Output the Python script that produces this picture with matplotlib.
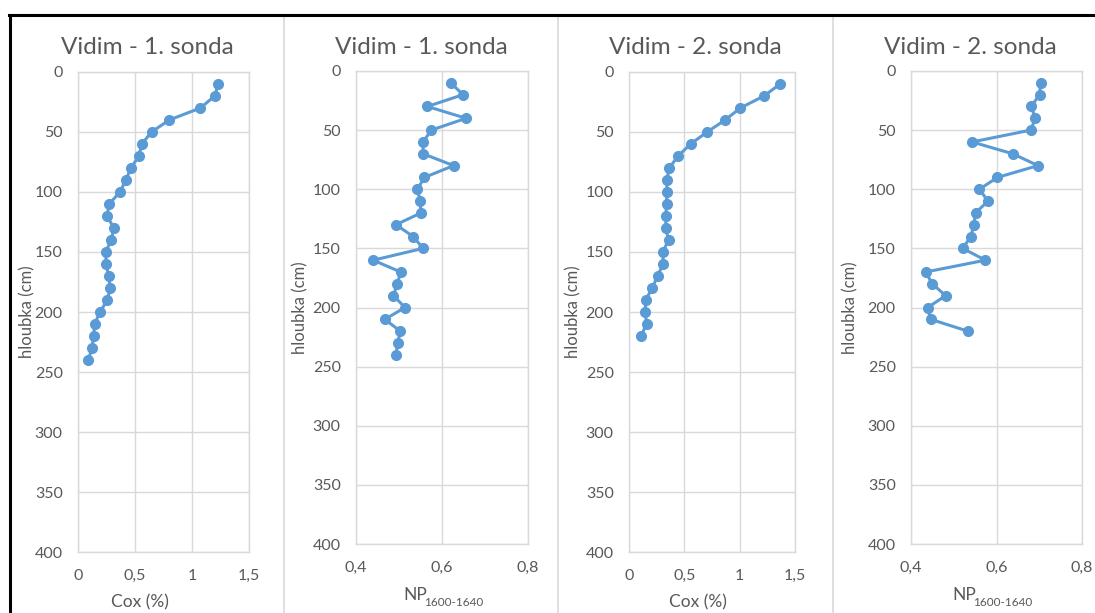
import matplotlib
matplotlib.use("Agg")
import matplotlib.pyplot as plt
from matplotlib.lines import Line2D

plt.rcParams['font.family'] = ['Lato', 'DejaVu Sans']

# hloubky (cm)
hloubka_1 = [10, 20, 30, 40, 50, 60, 70, 80, 90, 100, 110, 120, 130, 140, 150, 160,
             170, 180, 190, 200, 210, 220, 230, 240]
hloubka_2 = [10, 20, 30, 40, 50, 60, 70, 80, 90, 100, 110, 120, 130, 140, 150, 160,
             170, 180, 190, 200, 210, 220]

# 1. sonda
cox_1 = [1.231, 1.199, 1.074, 0.80, 0.645, 0.56, 0.534, 0.464, 0.42, 0.368, 0.274, 0.254,
         0.315, 0.292, 0.242, 0.248, 0.268, 0.283, 0.257, 0.193, 0.146, 0.137, 0.123, 0.09]
np_1 = [0.620, 0.649, 0.566, 0.656, 0.575, 0.556, 0.556, 0.627, 0.559, 0.543, 0.549, 0.551,
        0.493, 0.533, 0.556, 0.440, 0.504, 0.496, 0.487, 0.514, 0.467, 0.503, 0.497, 0.493]

# 2. sonda
cox_2 = [1.366, 1.219, 1.006, 0.868, 0.706, 0.556, 0.444, 0.363, 0.342, 0.342, 0.339, 0.333,
         0.333, 0.357, 0.306, 0.309, 0.258, 0.21, 0.15, 0.147, 0.159, 0.108]
np_2 = [0.703, 0.701, 0.681, 0.691, 0.680, 0.543, 0.638, 0.697, 0.602, 0.560, 0.580, 0.551,
        0.547, 0.540, 0.521, 0.574, 0.434, 0.450, 0.481, 0.439, 0.446, 0.533]

cox_ticks = [0, 0.5, 1, 1.5]
cox_labels = ["0", "0,5", "1", "1,5"]
np_ticks = [0.4, 0.6, 0.8]
np_labels = ["0,4", "0,6", "0,8"]
y_ticks = [0, 50, 100, 150, 200, 250, 300, 350, 400]

W, H = 1095, 613
fig = plt.figure(figsize=(W / 100, H / 100), dpi=100)

modra = "#5b9bd5"
seda_text = "#595959"
seda_mrizka = "#d9d9d9"


def osa(x0, y0, x1, y1):
    return fig.add_axes([x0 / W, 1 - y1 / H, (x1 - x0) / W, (y1 - y0) / H])


panely = [
    # (plot area px, x data, y data, xlim, ticks, labels, title, title x, ylabel x)
    ((78, 72, 249, 552), cox_1, hloubka_1, (0, 1.5), cox_ticks, cox_labels, "Vidim - 1. sonda", 147, 27),
    ((356, 71, 528, 544), np_1, hloubka_1, (0.4, 0.8), np_ticks, np_labels, "Vidim - 1. sonda", 421, 300),
    ((629, 72, 795, 552), cox_2, hloubka_2, (0, 1.5), cox_ticks, cox_labels, "Vidim - 2. sonda", 695, 573),
    ((911, 71, 1082, 544), np_2, hloubka_2, (0.4, 0.8), np_ticks, np_labels, "Vidim - 2. sonda", 970, 850),
]

for rect, xs, ys, xlim, ticks, labels, title, tx, lx in panely:
    ax = osa(*rect)
    ax.plot(xs, ys, color=modra, lw=2.2, marker="o", ms=7, clip_on=False)
    ax.set_xlim(*xlim)
    ax.set_ylim(400, 0)
    ax.set_xticks(ticks)
    ax.set_xticklabels(labels)
    ax.set_yticks(y_ticks)
    ax.grid(True, color=seda_mrizka, lw=1)
    ax.set_axisbelow(True)
    for s in ax.spines.values():
        s.set_color(seda_mrizka)
        s.set_linewidth(1)
    ax.tick_params(length=0, labelsize=11.5, labelcolor=seda_text)
    ax.tick_params(axis="y", pad=11)
    ax.tick_params(axis="x", pad=12)
    fig.text(tx / W, 1 - 48 / H, title, ha="center", va="center", fontsize=17.5,
             color=seda_text)
    yc = (rect[1] + rect[3]) / 2
    fig.text(lx / W, 1 - yc / H, "hloubka (cm)", rotation=90, ha="center", va="center",
             fontsize=12, color=seda_text)

# popisky osy x
fig.text(140 / W, 1 - 602 / H, "Cox (%)", ha="center", va="center", fontsize=12.5, color=seda_text)
fig.text(698 / W, 1 - 602 / H, "Cox (%)", ha="center", va="center", fontsize=12.5, color=seda_text)
for x_np in (403, 952):
    fig.text(x_np / W, 1 - 595 / H, "NP", ha="left", va="center", fontsize=12.5, color=seda_text)
    fig.text((x_np + 21) / W, 1 - 602 / H, "1600-1640", ha="left", va="center", fontsize=8.5,
             color=seda_text)

# rámečky
for xb in (284, 558, 833):
    fig.add_artist(Line2D([xb / W, xb / W], [0, 1 - 16 / H], color=seda_mrizka, lw=1.2,
                          transform=fig.transFigure))
fig.add_artist(Line2D([9 / W, 1], [1 - 14.5 / H, 1 - 14.5 / H], color="black", lw=2.2,
                      transform=fig.transFigure))
fig.add_artist(Line2D([9.5 / W, 9.5 / W], [0, 1 - 14.5 / H], color="black", lw=2.2,
                      transform=fig.transFigure))

fig.savefig("out.png", dpi=100)
